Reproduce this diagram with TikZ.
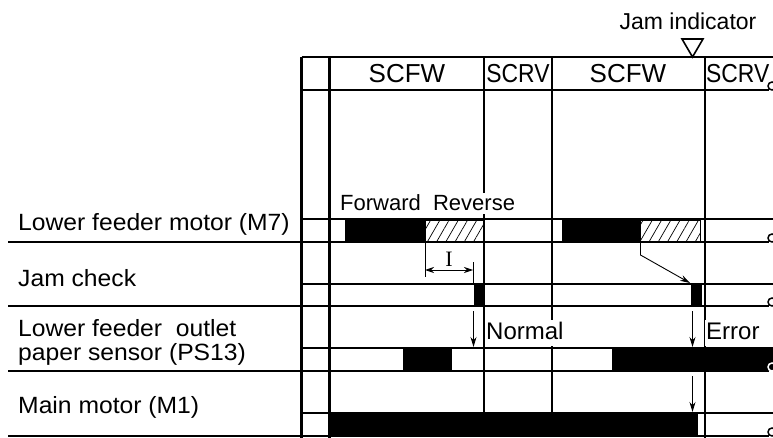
\documentclass[tikz,border=0pt]{standalone}
\usepackage{fontspec}
\setmainfont{Liberation Sans}
\newfontfamily\labfont[FakeStretch=1.05]{Liberation Sans}
\newfontfamily\seriffont{Liberation Serif}
\usetikzlibrary{patterns.meta,arrows.meta}
\begin{document}
\begin{tikzpicture}[x=1pt,y=-1pt,
  gridline/.style={line width=2.2pt},
  rowline/.style={line width=1.8pt},
  thinline/.style={line width=0.8pt},
  sig/.style={fill=black},
  hatchbox/.style={pattern={Lines[angle=60,distance=8pt,line width=0.7pt]},draw,line width=0.7pt},
  lab/.style={anchor=base west,inner sep=0pt,font=\labfont\fontsize{23.5}{26}\selectfont},
  hdr/.style={anchor=base,inner sep=0pt,font=\fontsize{26}{28}\selectfont},
  note/.style={anchor=base west,inner xsep=1pt,inner ysep=0pt,fill=white,text height=19pt,text depth=7pt,font=\fontsize{24}{26}\selectfont},
  arr/.style={-{Stealth[length=10pt,width=6pt]},line width=0.9pt},
  curl/.style={line width=1.5pt}]
\useasboundingbox (0,0) rectangle (773,438);
\clip (0,0) rectangle (773,438);

% grid: vertical lines
\draw[gridline] (301.5,57) -- (301.5,438);
\draw[gridline] (329.5,57) -- (329.5,438);
\draw[gridline] (484,57) -- (484,436);
\draw[gridline] (552,57) -- (552,436);
\draw[gridline] (705,57) -- (705,438);

% header
\draw[gridline] (301.5,57) -- (773,57);
\draw[gridline] (301.5,90) -- (769,90);
\draw[curl] (772,86) circle[radius=4];

% rows: top lines
\foreach \y in {219,284,348,413} \draw[gridline] (301.5,\y) -- (773,\y);

% signals
\fill[sig] (345,220.5) rectangle (425,241);
\draw[hatchbox] (425,220.5) rectangle (483,241);
\fill[sig] (561.5,220.5) rectangle (640.5,241);
\draw[hatchbox] (640.5,220.5) rectangle (700.5,241);

\fill[sig] (474,284) rectangle (484.5,306);
\fill[sig] (691,284) rectangle (701.5,306);

\fill[sig] (403,348) rectangle (452,371);
\fill[sig] (611.5,348) rectangle (773,371);

\fill[sig] (329,413) rectangle (698,436);

% rows: bottom lines with curls
\foreach \y in {242,306,371,436} {
  \draw[rowline] (8,\y) -- (769,\y);
}
\foreach \y in {242,306,436} \draw[curl] (772,\y-4) circle[radius=4];
\draw[curl,white] (772,367) circle[radius=4];

% labels
\node[lab] (m7) at (18,230.5) {Lower feeder motor (M7)};
\node[lab] (jc) at (18,286) {Jam check};
\node[lab] (ps1) at (18,336.5) {Lower feeder\ \ outlet};
\node[lab] (ps2) at (18,360) {paper sensor (PS13)};
\node[lab] (m1) at (18,413) {Main motor (M1)};

% header texts
\node[hdr] (h1) at (407,83) {SCFW};
\node[hdr] (h2) at (518,83) {\scalebox{0.88}[1]{SCRV}};
\node[hdr] (h3) at (628,83) {SCFW};
\node[hdr,anchor=base west] (h4) at (706,83) {\scalebox{0.88}[1]{SCRV}};
\node[anchor=base,inner sep=0pt,font=\fontsize{23}{26}\selectfont] (ji) at (688,30) {Jam indicator};
\coordinate (t1) at (682,39);
\coordinate (t2) at (703,39);
\coordinate (t3) at (692.5,57);
\draw[line width=1.6pt,line join=miter] (t1) -- (t2) -- (t3) -- cycle;

% annotations
\node[note,text height=18pt,text depth=3pt,font=\fontsize{22}{24}\selectfont] (fr) at (339,211) {Forward\ \ Reverse};
\node[note] (nm) at (485,339) {Normal};
\node[note] (er) at (705,339) {Error};

% dimension I
\coordinate (d1) at (425,242);
\coordinate (d1b) at (425,277);
\coordinate (d2) at (473,262);
\coordinate (d2b) at (473,284);
\draw[thinline] (d1) -- (d1b);
\draw[thinline] (d2) -- (d2b);
\coordinate (a1) at (425,270);
\coordinate (a2) at (473,270);
\draw[{Stealth[length=9pt,width=6pt]}-{Stealth[length=9pt,width=6pt]},line width=0.8pt] (a1) -- (a2);
\node[anchor=base,inner sep=0pt,font=\seriffont\fontsize{22}{24}\selectfont] (dimI) at (449,266) {I};

% jam check arrow
\coordinate (j1) at (640.5,241);
\coordinate (j2) at (640.5,255);
\coordinate (j3) at (690,283);
\draw[arr] (j1) -- (j2) -- (j3);

% down arrows
\coordinate (n1) at (473.5,311);
\coordinate (n2) at (473.5,347);
\draw[arr] (n1) -- (n2);
\coordinate (e1) at (692.5,311);
\coordinate (e2) at (692.5,347);
\draw[arr] (e1) -- (e2);
\coordinate (e3) at (692.5,376);
\coordinate (e4) at (692.5,412);
\draw[arr] (e3) -- (e4);
\end{tikzpicture}
\end{document}
